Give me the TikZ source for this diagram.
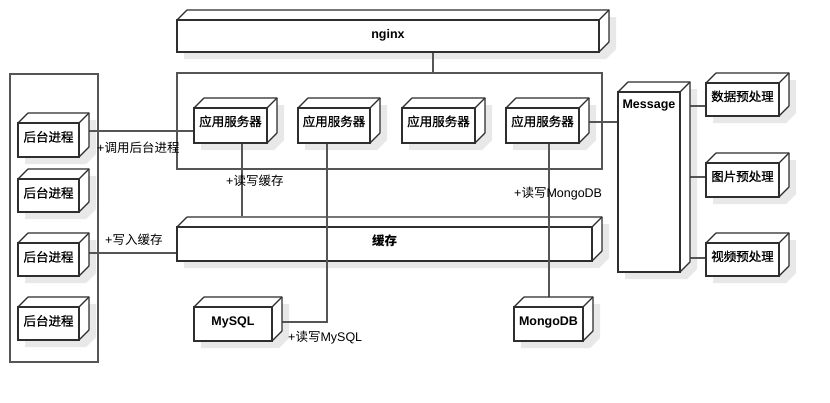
\documentclass[tikz,border=0pt]{standalone}
\usepackage{fontspec}
\setmainfont{Liberation Sans}
\newfontfamily\cjk{Noto Sans CJK SC}
\newfontfamily\cjkb{Noto Sans CJK SC}[FakeBold=0.9]
\usetikzlibrary{fit,calc}
\pgfdeclarelayer{bgl}
\pgfdeclarelayer{shadowl}
\pgfdeclarelayer{low}
\pgfdeclarelayer{conn}
\pgfdeclarelayer{boxl}
\pgfsetlayers{bgl,shadowl,low,conn,boxl,main}
\definecolor{boxc}{HTML}{2E2E2E}
\definecolor{linec}{HTML}{555555}
\definecolor{shadowc}{HTML}{E8E8E8}
\tikzset{
  cubefront/.style={draw=boxc, line width=1.3pt, fill=white, inner sep=0pt},
  cubeside/.style={draw=boxc, line width=1.1pt, fill=white, line join=round},
  wire/.style={draw=linec, line width=1.1pt},
  container/.style={draw=linec, line width=1.1pt, inner sep=0pt},
  lbl/.style={font=\fontsize{12.5}{14}\selectfont, inner sep=0pt, anchor=west},
  btxt/.style={font=\fontsize{12.5}{14}\selectfont, inner sep=0pt},
  bltxt/.style={font=\fontsize{12.5}{14}\selectfont\bfseries, inner sep=0pt},
}
% #1 layer, #2 name, #3 x1, #4 y1, #5 x2, #6 y2
\newcommand{\cubebox}[6][boxl]{%
  \begin{pgfonlayer}{shadowl}
    \fill[shadowc] (#3+7,#4-3) -- (#5+17,#4-3) -- (#5+17,#6-3) -- (#5+7,#6+7) -- (#3+7,#6+7) -- cycle;
  \end{pgfonlayer}
  \begin{pgfonlayer}{#1}
    \filldraw[cubeside] (#3,#4) -- (#3+10,#4-10) -- (#5+10,#4-10) -- (#5+10,#6-10) -- (#5,#6) -- (#5,#4) -- cycle;
    \draw[cubeside] (#5,#4) -- (#5+10,#4-10);
    \node[cubefront, fit={(#3,#4)(#5,#6)}] (#2) {};
  \end{pgfonlayer}
}
\begin{document}
\begin{tikzpicture}[x=1pt,y=-1pt]
\begin{pgfonlayer}{bgl}
  \path[use as bounding box, fill=white] (0,0) rectangle (830,402);
\end{pgfonlayer}

% containers
\node[container, fit={(177,73)(602,169)}] (appc) {};
\node[container, fit={(10,74)(98,362)}] (bpc) {};

% boxes
\cubebox{nginx}{177}{20}{599}{52}
\cubebox{app1}{194}{108}{267}{143}
\cubebox{app2}{298}{108}{370}{143}
\cubebox{app3}{402}{108}{475}{143}
\cubebox{app4}{506}{108}{579}{143}
\cubebox{bp1}{18}{123}{79}{157}
\cubebox{bp2}{18}{179}{79}{212}
\cubebox{bp3}{18}{243}{79}{276}
\cubebox{bp4}{18}{307}{79}{340}
\cubebox[low]{cache}{177}{227}{592}{261}
\cubebox{mysql}{194}{307}{272}{341}
\cubebox{mongo}{514}{307}{583}{341}
\cubebox{msg}{618}{92}{680}{272}
\cubebox{pre1}{706}{83}{779}{116}
\cubebox{pre2}{706}{163}{779}{197}
\cubebox{pre3}{706}{243}{779}{276}

% box texts
\node[bltxt] (t-nginx) at ($(nginx.north)+(0,16)$) {nginx};
\node[btxt] (t-app1) at ($(app1.north)+(0,14)$) {\cjkb 应用服务器};
\node[btxt] (t-app2) at ($(app2.north)+(0,14)$) {\cjkb 应用服务器};
\node[btxt] (t-app3) at ($(app3.north)+(0,14)$) {\cjkb 应用服务器};
\node[btxt] (t-app4) at ($(app4.north)+(0,14)$) {\cjkb 应用服务器};
\node[btxt] (t-bp1) at ($(bp1.north)+(0,14.5)$) {\cjkb 后台进程};
\node[btxt] (t-bp2) at ($(bp2.north)+(0,14.5)$) {\cjkb 后台进程};
\node[btxt] (t-bp3) at ($(bp3.north)+(0,14.5)$) {\cjkb 后台进程};
\node[btxt] (t-bp4) at ($(bp4.north)+(0,14.5)$) {\cjkb 后台进程};
\node[btxt] (t-cache) at ($(cache.north)+(0,14)$) {\cjk\bfseries 缓存};
\node[bltxt] (t-mysql) at ($(mysql.north)+(0,16)$) {MySQL};
\node[bltxt] (t-mongo) at ($(mongo.north)+(0,16)$) {MongoDB};
\node[bltxt, anchor=west] (t-msg) at ($(msg.north west)+(5,14)$) {Message};
\node[btxt] (t-pre1) at ($(pre1.north)+(0,14)$) {\cjkb 数据预处理};
\node[btxt] (t-pre2) at ($(pre2.north)+(0,14)$) {\cjkb 图片预处理};
\node[btxt] (t-pre3) at ($(pre3.north)+(0,14)$) {\cjkb 视频预处理};

% connectors
\begin{pgfonlayer}{conn}
  \draw[wire] ($(nginx.south)+(45,0)$) -- ($(nginx.south |- appc.north)+(45,0)$);
  \draw[wire] ($(bp1.east)+(0,-9)$) -- ($(bp1.east -| app1.west)+(0,-9)$);
  \draw[wire] ($(bp3.east)+(0,-6.5)$) -- ($(bp3.east -| cache.west)+(0,-6.5)$);
  \draw[wire] ($(app1.south)+(11.5,0)$) -- ($(app1.south |- cache.north)+(11.5,-10)$);
  \draw[wire] ($(app2.south)+(-7,0)$) |- ($(mysql.east)+(0,-2)$);
  \draw[wire] ($(app4.south)+(6.5,0)$) -- ($(app4.south |- mongo.north)+(6.5,0)$);
  \draw[wire] ($(app4.east)+(0,-3.5)$) -- ($(app4.east -| msg.west)+(0,-3.5)$);
  \draw[wire] ($(pre1.west)+(0,6.5)$) -- ($(pre1.west -| msg.east)+(0,6.5)$);
  \draw[wire] ($(pre2.west)+(0,-3)$) -- ($(pre2.west -| msg.east)+(0,-3)$);
  \draw[wire] ($(pre3.west)+(0,-1.5)$) -- ($(pre3.west -| msg.east)+(0,-1.5)$);
\end{pgfonlayer}

% connector labels
\node[lbl] (l-call) at (97,148) {+{\cjk 调用后台进程}};
\node[lbl] (l-write) at (105,240) {+{\cjk 写入缓存}};
\node[lbl] (l-rwcache) at (226,181) {+{\cjk 读写缓存}};
\node[lbl] (l-rwmysql) at (288,338) {+{\cjk 读写}MySQL};
\node[lbl] (l-rwmongo) at (514,194) {+{\cjk 读写}MongoDB};
\end{tikzpicture}
\end{document}
